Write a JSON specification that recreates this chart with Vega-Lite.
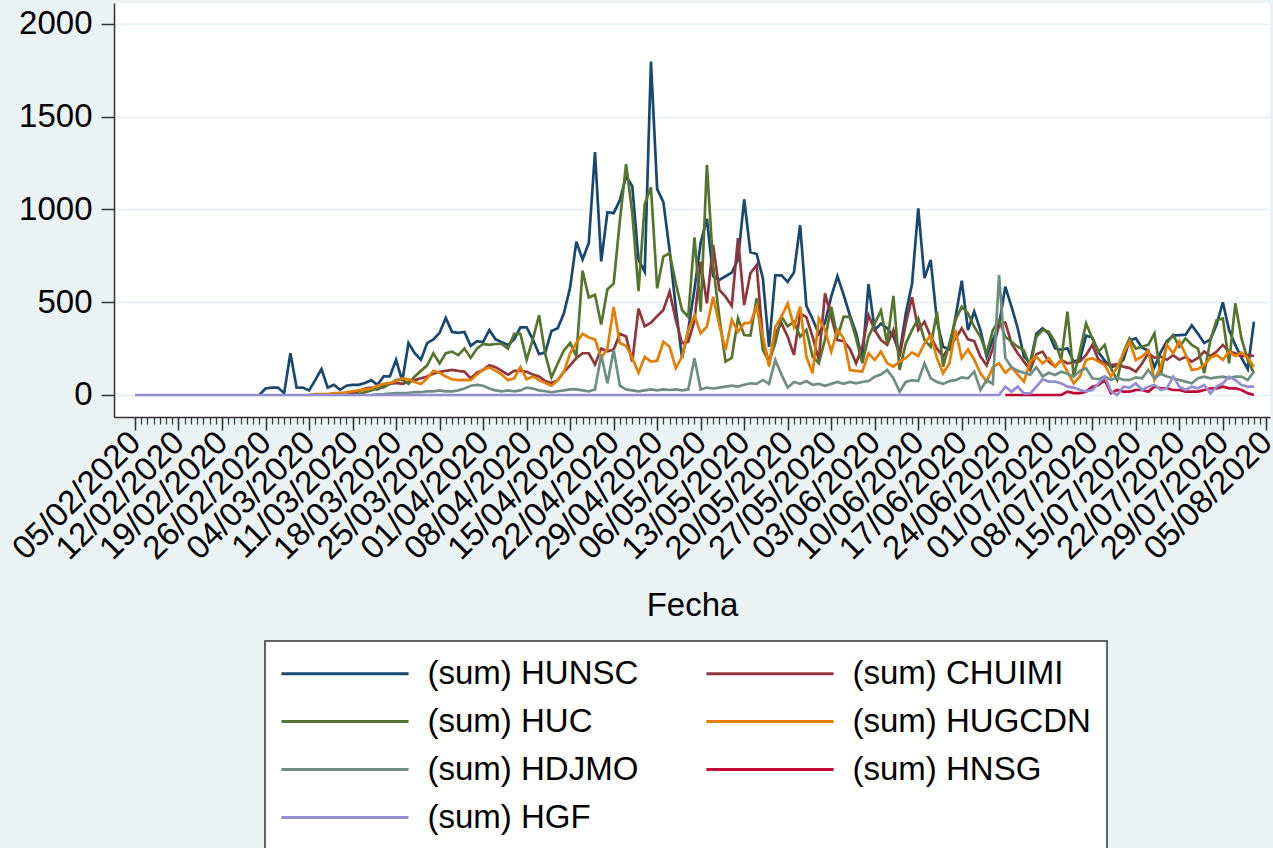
{
"$schema":"https://vega.github.io/schema/vega-lite/v6.json",
"width":1156,"height":414,
"autosize":{"type":"none"},
"padding":{"left":114,"top":3,"right":3,"bottom":431},
"background":"#EAF2F3",
"config":{"view":{"fill":"white","stroke":null},"font":"Liberation Sans",
"axis":{"labelFont":"Liberation Sans","titleFont":"Liberation Sans","labelColor":"#000","titleColor":"#000","domainColor":"#333","tickColor":"#333"}},
"data":{"values":[
{"d":"2020-02-25","s":"HUNSC","v":0},{"d":"2020-02-26","s":"HUNSC","v":35},{"d":"2020-02-27","s":"HUNSC","v":40},{"d":"2020-02-28","s":"HUNSC","v":40},{"d":"2020-02-29","s":"HUNSC","v":10},
{"d":"2020-03-01","s":"HUNSC","v":225},{"d":"2020-03-02","s":"HUNSC","v":40},{"d":"2020-03-03","s":"HUNSC","v":40},{"d":"2020-03-04","s":"HUNSC","v":25},{"d":"2020-03-05","s":"HUNSC","v":80},{"d":"2020-03-06","s":"HUNSC","v":140},{"d":"2020-03-07","s":"HUNSC","v":40},{"d":"2020-03-08","s":"HUNSC","v":55},{"d":"2020-03-09","s":"HUNSC","v":28},{"d":"2020-03-10","s":"HUNSC","v":50},
{"d":"2020-03-11","s":"HUNSC","v":55},{"d":"2020-03-12","s":"HUNSC","v":55},{"d":"2020-03-13","s":"HUNSC","v":65},{"d":"2020-03-14","s":"HUNSC","v":80},{"d":"2020-03-15","s":"HUNSC","v":55},{"d":"2020-03-16","s":"HUNSC","v":100},{"d":"2020-03-17","s":"HUNSC","v":100},{"d":"2020-03-18","s":"HUNSC","v":190},{"d":"2020-03-19","s":"HUNSC","v":75},{"d":"2020-03-20","s":"HUNSC","v":280},
{"d":"2020-03-21","s":"HUNSC","v":225},{"d":"2020-03-22","s":"HUNSC","v":190},{"d":"2020-03-23","s":"HUNSC","v":280},{"d":"2020-03-24","s":"HUNSC","v":300},{"d":"2020-03-25","s":"HUNSC","v":335},{"d":"2020-03-26","s":"HUNSC","v":415},{"d":"2020-03-27","s":"HUNSC","v":340},{"d":"2020-03-28","s":"HUNSC","v":335},{"d":"2020-03-29","s":"HUNSC","v":340},{"d":"2020-03-30","s":"HUNSC","v":265},{"d":"2020-03-31","s":"HUNSC","v":290},
{"d":"2020-04-01","s":"HUNSC","v":285},{"d":"2020-04-02","s":"HUNSC","v":350},{"d":"2020-04-03","s":"HUNSC","v":300},{"d":"2020-04-04","s":"HUNSC","v":285},{"d":"2020-04-05","s":"HUNSC","v":270},{"d":"2020-04-06","s":"HUNSC","v":300},{"d":"2020-04-07","s":"HUNSC","v":365},{"d":"2020-04-08","s":"HUNSC","v":365},{"d":"2020-04-09","s":"HUNSC","v":300},{"d":"2020-04-10","s":"HUNSC","v":220},
{"d":"2020-04-11","s":"HUNSC","v":230},{"d":"2020-04-12","s":"HUNSC","v":345},{"d":"2020-04-13","s":"HUNSC","v":360},{"d":"2020-04-14","s":"HUNSC","v":440},{"d":"2020-04-15","s":"HUNSC","v":580},{"d":"2020-04-16","s":"HUNSC","v":827},{"d":"2020-04-17","s":"HUNSC","v":730},{"d":"2020-04-18","s":"HUNSC","v":820},{"d":"2020-04-19","s":"HUNSC","v":1310},{"d":"2020-04-20","s":"HUNSC","v":720},
{"d":"2020-04-21","s":"HUNSC","v":985},{"d":"2020-04-22","s":"HUNSC","v":980},{"d":"2020-04-23","s":"HUNSC","v":1050},{"d":"2020-04-24","s":"HUNSC","v":1180},{"d":"2020-04-25","s":"HUNSC","v":1125},{"d":"2020-04-26","s":"HUNSC","v":730},{"d":"2020-04-27","s":"HUNSC","v":665},{"d":"2020-04-28","s":"HUNSC","v":1797},{"d":"2020-04-29","s":"HUNSC","v":1110},{"d":"2020-04-30","s":"HUNSC","v":1040},
{"d":"2020-05-01","s":"HUNSC","v":780},{"d":"2020-05-02","s":"HUNSC","v":470},{"d":"2020-05-03","s":"HUNSC","v":200},{"d":"2020-05-04","s":"HUNSC","v":350},{"d":"2020-05-05","s":"HUNSC","v":570},{"d":"2020-05-06","s":"HUNSC","v":820},{"d":"2020-05-07","s":"HUNSC","v":950},{"d":"2020-05-08","s":"HUNSC","v":640},{"d":"2020-05-09","s":"HUNSC","v":620},{"d":"2020-05-10","s":"HUNSC","v":640},
{"d":"2020-05-11","s":"HUNSC","v":660},{"d":"2020-05-12","s":"HUNSC","v":730},{"d":"2020-05-13","s":"HUNSC","v":1055},{"d":"2020-05-14","s":"HUNSC","v":770},{"d":"2020-05-15","s":"HUNSC","v":760},{"d":"2020-05-16","s":"HUNSC","v":630},{"d":"2020-05-17","s":"HUNSC","v":260},{"d":"2020-05-18","s":"HUNSC","v":645},{"d":"2020-05-19","s":"HUNSC","v":645},{"d":"2020-05-20","s":"HUNSC","v":610},
{"d":"2020-05-21","s":"HUNSC","v":660},{"d":"2020-05-22","s":"HUNSC","v":915},{"d":"2020-05-23","s":"HUNSC","v":480},{"d":"2020-05-24","s":"HUNSC","v":410},{"d":"2020-05-25","s":"HUNSC","v":330},{"d":"2020-05-26","s":"HUNSC","v":390},{"d":"2020-05-27","s":"HUNSC","v":530},{"d":"2020-05-28","s":"HUNSC","v":640},{"d":"2020-05-29","s":"HUNSC","v":540},{"d":"2020-05-30","s":"HUNSC","v":430},{"d":"2020-05-31","s":"HUNSC","v":335},
{"d":"2020-06-01","s":"HUNSC","v":190},{"d":"2020-06-02","s":"HUNSC","v":598},{"d":"2020-06-03","s":"HUNSC","v":350},{"d":"2020-06-04","s":"HUNSC","v":385},{"d":"2020-06-05","s":"HUNSC","v":360},{"d":"2020-06-06","s":"HUNSC","v":315},{"d":"2020-06-07","s":"HUNSC","v":225},{"d":"2020-06-08","s":"HUNSC","v":440},{"d":"2020-06-09","s":"HUNSC","v":600},{"d":"2020-06-10","s":"HUNSC","v":1006},
{"d":"2020-06-11","s":"HUNSC","v":630},{"d":"2020-06-12","s":"HUNSC","v":728},{"d":"2020-06-13","s":"HUNSC","v":400},{"d":"2020-06-14","s":"HUNSC","v":260},{"d":"2020-06-15","s":"HUNSC","v":245},{"d":"2020-06-16","s":"HUNSC","v":420},{"d":"2020-06-17","s":"HUNSC","v":616},{"d":"2020-06-18","s":"HUNSC","v":350},{"d":"2020-06-19","s":"HUNSC","v":450},{"d":"2020-06-20","s":"HUNSC","v":350},
{"d":"2020-06-21","s":"HUNSC","v":207},{"d":"2020-06-22","s":"HUNSC","v":296},{"d":"2020-06-23","s":"HUNSC","v":377},{"d":"2020-06-24","s":"HUNSC","v":584},{"d":"2020-06-25","s":"HUNSC","v":476},{"d":"2020-06-26","s":"HUNSC","v":360},{"d":"2020-06-27","s":"HUNSC","v":207},{"d":"2020-06-28","s":"HUNSC","v":171},{"d":"2020-06-29","s":"HUNSC","v":330},{"d":"2020-06-30","s":"HUNSC","v":360},
{"d":"2020-07-01","s":"HUNSC","v":330},{"d":"2020-07-02","s":"HUNSC","v":252},{"d":"2020-07-03","s":"HUNSC","v":243},{"d":"2020-07-04","s":"HUNSC","v":252},{"d":"2020-07-05","s":"HUNSC","v":180},{"d":"2020-07-06","s":"HUNSC","v":190},{"d":"2020-07-07","s":"HUNSC","v":320},{"d":"2020-07-08","s":"HUNSC","v":310},{"d":"2020-07-09","s":"HUNSC","v":230},{"d":"2020-07-10","s":"HUNSC","v":185},
{"d":"2020-07-11","s":"HUNSC","v":150},{"d":"2020-07-12","s":"HUNSC","v":160},{"d":"2020-07-13","s":"HUNSC","v":190},{"d":"2020-07-14","s":"HUNSC","v":296},{"d":"2020-07-15","s":"HUNSC","v":305},{"d":"2020-07-16","s":"HUNSC","v":255},{"d":"2020-07-17","s":"HUNSC","v":240},{"d":"2020-07-18","s":"HUNSC","v":150},{"d":"2020-07-19","s":"HUNSC","v":230},{"d":"2020-07-20","s":"HUNSC","v":290},
{"d":"2020-07-21","s":"HUNSC","v":320},{"d":"2020-07-22","s":"HUNSC","v":323},{"d":"2020-07-23","s":"HUNSC","v":325},{"d":"2020-07-24","s":"HUNSC","v":375},{"d":"2020-07-25","s":"HUNSC","v":330},{"d":"2020-07-26","s":"HUNSC","v":280},{"d":"2020-07-27","s":"HUNSC","v":300},{"d":"2020-07-28","s":"HUNSC","v":380},{"d":"2020-07-29","s":"HUNSC","v":500},{"d":"2020-07-30","s":"HUNSC","v":350},{"d":"2020-07-31","s":"HUNSC","v":270},
{"d":"2020-08-01","s":"HUNSC","v":200},{"d":"2020-08-02","s":"HUNSC","v":140},{"d":"2020-08-03","s":"HUNSC","v":395},

{"d":"2020-03-10","s":"CHUIMI","v":0},{"d":"2020-03-11","s":"CHUIMI","v":10},{"d":"2020-03-12","s":"CHUIMI","v":20},{"d":"2020-03-13","s":"CHUIMI","v":35},{"d":"2020-03-14","s":"CHUIMI","v":40},{"d":"2020-03-15","s":"CHUIMI","v":30},{"d":"2020-03-16","s":"CHUIMI","v":50},{"d":"2020-03-17","s":"CHUIMI","v":60},{"d":"2020-03-18","s":"CHUIMI","v":65},{"d":"2020-03-19","s":"CHUIMI","v":60},{"d":"2020-03-20","s":"CHUIMI","v":70},
{"d":"2020-03-21","s":"CHUIMI","v":80},{"d":"2020-03-22","s":"CHUIMI","v":90},{"d":"2020-03-23","s":"CHUIMI","v":100},{"d":"2020-03-24","s":"CHUIMI","v":115},{"d":"2020-03-25","s":"CHUIMI","v":125},{"d":"2020-03-26","s":"CHUIMI","v":130},{"d":"2020-03-27","s":"CHUIMI","v":135},{"d":"2020-03-28","s":"CHUIMI","v":130},{"d":"2020-03-29","s":"CHUIMI","v":126},{"d":"2020-03-30","s":"CHUIMI","v":90},{"d":"2020-03-31","s":"CHUIMI","v":120},
{"d":"2020-04-01","s":"CHUIMI","v":135},{"d":"2020-04-02","s":"CHUIMI","v":160},{"d":"2020-04-03","s":"CHUIMI","v":150},{"d":"2020-04-04","s":"CHUIMI","v":130},{"d":"2020-04-05","s":"CHUIMI","v":110},{"d":"2020-04-06","s":"CHUIMI","v":130},{"d":"2020-04-07","s":"CHUIMI","v":130},{"d":"2020-04-08","s":"CHUIMI","v":125},{"d":"2020-04-09","s":"CHUIMI","v":110},{"d":"2020-04-10","s":"CHUIMI","v":100},
{"d":"2020-04-11","s":"CHUIMI","v":75},{"d":"2020-04-12","s":"CHUIMI","v":65},{"d":"2020-04-13","s":"CHUIMI","v":80},{"d":"2020-04-14","s":"CHUIMI","v":125},{"d":"2020-04-15","s":"CHUIMI","v":160},{"d":"2020-04-16","s":"CHUIMI","v":200},{"d":"2020-04-17","s":"CHUIMI","v":225},{"d":"2020-04-18","s":"CHUIMI","v":225},{"d":"2020-04-19","s":"CHUIMI","v":165},{"d":"2020-04-20","s":"CHUIMI","v":250},
{"d":"2020-04-21","s":"CHUIMI","v":235},{"d":"2020-04-22","s":"CHUIMI","v":245},{"d":"2020-04-23","s":"CHUIMI","v":330},{"d":"2020-04-24","s":"CHUIMI","v":315},{"d":"2020-04-25","s":"CHUIMI","v":180},{"d":"2020-04-26","s":"CHUIMI","v":465},{"d":"2020-04-27","s":"CHUIMI","v":370},{"d":"2020-04-28","s":"CHUIMI","v":390},{"d":"2020-04-29","s":"CHUIMI","v":425},{"d":"2020-04-30","s":"CHUIMI","v":458},
{"d":"2020-05-01","s":"CHUIMI","v":557},{"d":"2020-05-02","s":"CHUIMI","v":404},{"d":"2020-05-03","s":"CHUIMI","v":279},{"d":"2020-05-04","s":"CHUIMI","v":287},{"d":"2020-05-05","s":"CHUIMI","v":400},{"d":"2020-05-06","s":"CHUIMI","v":719},{"d":"2020-05-07","s":"CHUIMI","v":494},{"d":"2020-05-08","s":"CHUIMI","v":809},{"d":"2020-05-09","s":"CHUIMI","v":566},{"d":"2020-05-10","s":"CHUIMI","v":530},
{"d":"2020-05-11","s":"CHUIMI","v":480},{"d":"2020-05-12","s":"CHUIMI","v":845},{"d":"2020-05-13","s":"CHUIMI","v":485},{"d":"2020-05-14","s":"CHUIMI","v":656},{"d":"2020-05-15","s":"CHUIMI","v":701},{"d":"2020-05-16","s":"CHUIMI","v":300},{"d":"2020-05-17","s":"CHUIMI","v":171},{"d":"2020-05-18","s":"CHUIMI","v":332},{"d":"2020-05-19","s":"CHUIMI","v":386},{"d":"2020-05-20","s":"CHUIMI","v":314},
{"d":"2020-05-21","s":"CHUIMI","v":216},{"d":"2020-05-22","s":"CHUIMI","v":440},{"d":"2020-05-23","s":"CHUIMI","v":420},{"d":"2020-05-24","s":"CHUIMI","v":314},{"d":"2020-05-25","s":"CHUIMI","v":189},{"d":"2020-05-26","s":"CHUIMI","v":548},{"d":"2020-05-27","s":"CHUIMI","v":422},{"d":"2020-05-28","s":"CHUIMI","v":296},{"d":"2020-05-29","s":"CHUIMI","v":290},{"d":"2020-05-30","s":"CHUIMI","v":250},{"d":"2020-05-31","s":"CHUIMI","v":171},
{"d":"2020-06-01","s":"CHUIMI","v":260},{"d":"2020-06-02","s":"CHUIMI","v":431},{"d":"2020-06-03","s":"CHUIMI","v":350},{"d":"2020-06-04","s":"CHUIMI","v":296},{"d":"2020-06-05","s":"CHUIMI","v":270},{"d":"2020-06-06","s":"CHUIMI","v":350},{"d":"2020-06-07","s":"CHUIMI","v":207},{"d":"2020-06-08","s":"CHUIMI","v":386},{"d":"2020-06-09","s":"CHUIMI","v":527},{"d":"2020-06-10","s":"CHUIMI","v":350},
{"d":"2020-06-11","s":"CHUIMI","v":395},{"d":"2020-06-12","s":"CHUIMI","v":314},{"d":"2020-06-13","s":"CHUIMI","v":250},{"d":"2020-06-14","s":"CHUIMI","v":207},{"d":"2020-06-15","s":"CHUIMI","v":260},{"d":"2020-06-16","s":"CHUIMI","v":305},{"d":"2020-06-17","s":"CHUIMI","v":359},{"d":"2020-06-18","s":"CHUIMI","v":300},{"d":"2020-06-19","s":"CHUIMI","v":290},{"d":"2020-06-20","s":"CHUIMI","v":207},
{"d":"2020-06-21","s":"CHUIMI","v":160},{"d":"2020-06-22","s":"CHUIMI","v":250},{"d":"2020-06-23","s":"CHUIMI","v":377},{"d":"2020-06-24","s":"CHUIMI","v":390},{"d":"2020-06-25","s":"CHUIMI","v":278},{"d":"2020-06-26","s":"CHUIMI","v":225},{"d":"2020-06-27","s":"CHUIMI","v":180},{"d":"2020-06-28","s":"CHUIMI","v":135},{"d":"2020-06-29","s":"CHUIMI","v":220},{"d":"2020-06-30","s":"CHUIMI","v":234},
{"d":"2020-07-01","s":"CHUIMI","v":180},{"d":"2020-07-02","s":"CHUIMI","v":153},{"d":"2020-07-03","s":"CHUIMI","v":189},{"d":"2020-07-04","s":"CHUIMI","v":170},{"d":"2020-07-05","s":"CHUIMI","v":175},{"d":"2020-07-06","s":"CHUIMI","v":180},{"d":"2020-07-07","s":"CHUIMI","v":216},{"d":"2020-07-08","s":"CHUIMI","v":270},{"d":"2020-07-09","s":"CHUIMI","v":190},{"d":"2020-07-10","s":"CHUIMI","v":170},
{"d":"2020-07-11","s":"CHUIMI","v":162},{"d":"2020-07-12","s":"CHUIMI","v":165},{"d":"2020-07-13","s":"CHUIMI","v":153},{"d":"2020-07-14","s":"CHUIMI","v":145},{"d":"2020-07-15","s":"CHUIMI","v":126},{"d":"2020-07-16","s":"CHUIMI","v":170},{"d":"2020-07-17","s":"CHUIMI","v":225},{"d":"2020-07-18","s":"CHUIMI","v":200},{"d":"2020-07-19","s":"CHUIMI","v":207},{"d":"2020-07-20","s":"CHUIMI","v":190},
{"d":"2020-07-21","s":"CHUIMI","v":215},{"d":"2020-07-22","s":"CHUIMI","v":190},{"d":"2020-07-23","s":"CHUIMI","v":205},{"d":"2020-07-24","s":"CHUIMI","v":180},{"d":"2020-07-25","s":"CHUIMI","v":200},{"d":"2020-07-26","s":"CHUIMI","v":234},{"d":"2020-07-27","s":"CHUIMI","v":210},{"d":"2020-07-28","s":"CHUIMI","v":234},{"d":"2020-07-29","s":"CHUIMI","v":270},{"d":"2020-07-30","s":"CHUIMI","v":234},{"d":"2020-07-31","s":"CHUIMI","v":225},
{"d":"2020-08-01","s":"CHUIMI","v":207},{"d":"2020-08-02","s":"CHUIMI","v":216},{"d":"2020-08-03","s":"CHUIMI","v":210},

{"d":"2020-03-11","s":"HUC","v":0},{"d":"2020-03-12","s":"HUC","v":5},{"d":"2020-03-13","s":"HUC","v":15},{"d":"2020-03-14","s":"HUC","v":25},{"d":"2020-03-15","s":"HUC","v":35},{"d":"2020-03-16","s":"HUC","v":40},{"d":"2020-03-17","s":"HUC","v":60},{"d":"2020-03-18","s":"HUC","v":80},{"d":"2020-03-19","s":"HUC","v":85},{"d":"2020-03-20","s":"HUC","v":60},
{"d":"2020-03-21","s":"HUC","v":100},{"d":"2020-03-22","s":"HUC","v":130},{"d":"2020-03-23","s":"HUC","v":160},{"d":"2020-03-24","s":"HUC","v":225},{"d":"2020-03-25","s":"HUC","v":170},{"d":"2020-03-26","s":"HUC","v":225},{"d":"2020-03-27","s":"HUC","v":234},{"d":"2020-03-28","s":"HUC","v":215},{"d":"2020-03-29","s":"HUC","v":250},{"d":"2020-03-30","s":"HUC","v":200},{"d":"2020-03-31","s":"HUC","v":250},
{"d":"2020-04-01","s":"HUC","v":275},{"d":"2020-04-02","s":"HUC","v":270},{"d":"2020-04-03","s":"HUC","v":275},{"d":"2020-04-04","s":"HUC","v":275},{"d":"2020-04-05","s":"HUC","v":250},{"d":"2020-04-06","s":"HUC","v":330},{"d":"2020-04-07","s":"HUC","v":330},{"d":"2020-04-08","s":"HUC","v":190},{"d":"2020-04-09","s":"HUC","v":300},{"d":"2020-04-10","s":"HUC","v":430},
{"d":"2020-04-11","s":"HUC","v":220},{"d":"2020-04-12","s":"HUC","v":95},{"d":"2020-04-13","s":"HUC","v":170},{"d":"2020-04-14","s":"HUC","v":240},{"d":"2020-04-15","s":"HUC","v":280},{"d":"2020-04-16","s":"HUC","v":210},{"d":"2020-04-17","s":"HUC","v":670},{"d":"2020-04-18","s":"HUC","v":525},{"d":"2020-04-19","s":"HUC","v":540},{"d":"2020-04-20","s":"HUC","v":380},
{"d":"2020-04-21","s":"HUC","v":570},{"d":"2020-04-22","s":"HUC","v":600},{"d":"2020-04-23","s":"HUC","v":940},{"d":"2020-04-24","s":"HUC","v":1245},{"d":"2020-04-25","s":"HUC","v":980},{"d":"2020-04-26","s":"HUC","v":560},{"d":"2020-04-27","s":"HUC","v":1030},{"d":"2020-04-28","s":"HUC","v":1120},{"d":"2020-04-29","s":"HUC","v":575},{"d":"2020-04-30","s":"HUC","v":746},
{"d":"2020-05-01","s":"HUC","v":764},{"d":"2020-05-02","s":"HUC","v":602},{"d":"2020-05-03","s":"HUC","v":458},{"d":"2020-05-04","s":"HUC","v":422},{"d":"2020-05-05","s":"HUC","v":850},{"d":"2020-05-06","s":"HUC","v":449},{"d":"2020-05-07","s":"HUC","v":1240},{"d":"2020-05-08","s":"HUC","v":700},{"d":"2020-05-09","s":"HUC","v":420},{"d":"2020-05-10","s":"HUC","v":180},
{"d":"2020-05-11","s":"HUC","v":200},{"d":"2020-05-12","s":"HUC","v":413},{"d":"2020-05-13","s":"HUC","v":323},{"d":"2020-05-14","s":"HUC","v":320},{"d":"2020-05-15","s":"HUC","v":521},{"d":"2020-05-16","s":"HUC","v":243},{"d":"2020-05-17","s":"HUC","v":180},{"d":"2020-05-18","s":"HUC","v":279},{"d":"2020-05-19","s":"HUC","v":422},{"d":"2020-05-20","s":"HUC","v":370},
{"d":"2020-05-21","s":"HUC","v":395},{"d":"2020-05-22","s":"HUC","v":315},{"d":"2020-05-23","s":"HUC","v":350},{"d":"2020-05-24","s":"HUC","v":207},{"d":"2020-05-25","s":"HUC","v":171},{"d":"2020-05-26","s":"HUC","v":300},{"d":"2020-05-27","s":"HUC","v":476},{"d":"2020-05-28","s":"HUC","v":314},{"d":"2020-05-29","s":"HUC","v":422},{"d":"2020-05-30","s":"HUC","v":420},{"d":"2020-05-31","s":"HUC","v":305},
{"d":"2020-06-01","s":"HUC","v":171},{"d":"2020-06-02","s":"HUC","v":314},{"d":"2020-06-03","s":"HUC","v":386},{"d":"2020-06-04","s":"HUC","v":455},{"d":"2020-06-05","s":"HUC","v":278},{"d":"2020-06-06","s":"HUC","v":534},{"d":"2020-06-07","s":"HUC","v":135},{"d":"2020-06-08","s":"HUC","v":278},{"d":"2020-06-09","s":"HUC","v":350},{"d":"2020-06-10","s":"HUC","v":413},
{"d":"2020-06-11","s":"HUC","v":296},{"d":"2020-06-12","s":"HUC","v":260},{"d":"2020-06-13","s":"HUC","v":449},{"d":"2020-06-14","s":"HUC","v":153},{"d":"2020-06-15","s":"HUC","v":278},{"d":"2020-06-16","s":"HUC","v":404},{"d":"2020-06-17","s":"HUC","v":476},{"d":"2020-06-18","s":"HUC","v":440},{"d":"2020-06-19","s":"HUC","v":368},{"d":"2020-06-20","s":"HUC","v":314},
{"d":"2020-06-21","s":"HUC","v":225},{"d":"2020-06-22","s":"HUC","v":350},{"d":"2020-06-23","s":"HUC","v":404},{"d":"2020-06-24","s":"HUC","v":314},{"d":"2020-06-25","s":"HUC","v":287},{"d":"2020-06-26","s":"HUC","v":260},{"d":"2020-06-27","s":"HUC","v":240},{"d":"2020-06-28","s":"HUC","v":153},{"d":"2020-06-29","s":"HUC","v":314},{"d":"2020-06-30","s":"HUC","v":350},
{"d":"2020-07-01","s":"HUC","v":341},{"d":"2020-07-02","s":"HUC","v":287},{"d":"2020-07-03","s":"HUC","v":189},{"d":"2020-07-04","s":"HUC","v":449},{"d":"2020-07-05","s":"HUC","v":99},{"d":"2020-07-06","s":"HUC","v":234},{"d":"2020-07-07","s":"HUC","v":386},{"d":"2020-07-08","s":"HUC","v":305},{"d":"2020-07-09","s":"HUC","v":234},{"d":"2020-07-10","s":"HUC","v":270},
{"d":"2020-07-11","s":"HUC","v":144},{"d":"2020-07-12","s":"HUC","v":81},{"d":"2020-07-13","s":"HUC","v":230},{"d":"2020-07-14","s":"HUC","v":305},{"d":"2020-07-15","s":"HUC","v":250},{"d":"2020-07-16","s":"HUC","v":260},{"d":"2020-07-17","s":"HUC","v":270},{"d":"2020-07-18","s":"HUC","v":332},{"d":"2020-07-19","s":"HUC","v":108},{"d":"2020-07-20","s":"HUC","v":279},
{"d":"2020-07-21","s":"HUC","v":323},{"d":"2020-07-22","s":"HUC","v":260},{"d":"2020-07-23","s":"HUC","v":305},{"d":"2020-07-24","s":"HUC","v":270},{"d":"2020-07-25","s":"HUC","v":250},{"d":"2020-07-26","s":"HUC","v":117},{"d":"2020-07-27","s":"HUC","v":296},{"d":"2020-07-28","s":"HUC","v":404},{"d":"2020-07-29","s":"HUC","v":413},{"d":"2020-07-30","s":"HUC","v":171},{"d":"2020-07-31","s":"HUC","v":494},
{"d":"2020-08-01","s":"HUC","v":305},{"d":"2020-08-02","s":"HUC","v":189},{"d":"2020-08-03","s":"HUC","v":117},

{"d":"2020-03-04","s":"HUGCDN","v":0},{"d":"2020-03-05","s":"HUGCDN","v":5},{"d":"2020-03-06","s":"HUGCDN","v":5},{"d":"2020-03-07","s":"HUGCDN","v":5},{"d":"2020-03-08","s":"HUGCDN","v":10},{"d":"2020-03-09","s":"HUGCDN","v":10},{"d":"2020-03-10","s":"HUGCDN","v":15},
{"d":"2020-03-11","s":"HUGCDN","v":20},{"d":"2020-03-12","s":"HUGCDN","v":25},{"d":"2020-03-13","s":"HUGCDN","v":30},{"d":"2020-03-14","s":"HUGCDN","v":35},{"d":"2020-03-15","s":"HUGCDN","v":50},{"d":"2020-03-16","s":"HUGCDN","v":60},{"d":"2020-03-17","s":"HUGCDN","v":65},{"d":"2020-03-18","s":"HUGCDN","v":75},{"d":"2020-03-19","s":"HUGCDN","v":90},{"d":"2020-03-20","s":"HUGCDN","v":85},
{"d":"2020-03-21","s":"HUGCDN","v":70},{"d":"2020-03-22","s":"HUGCDN","v":60},{"d":"2020-03-23","s":"HUGCDN","v":90},{"d":"2020-03-24","s":"HUGCDN","v":130},{"d":"2020-03-25","s":"HUGCDN","v":120},{"d":"2020-03-26","s":"HUGCDN","v":100},{"d":"2020-03-27","s":"HUGCDN","v":85},{"d":"2020-03-28","s":"HUGCDN","v":80},{"d":"2020-03-29","s":"HUGCDN","v":82},{"d":"2020-03-30","s":"HUGCDN","v":80},{"d":"2020-03-31","s":"HUGCDN","v":110},
{"d":"2020-04-01","s":"HUGCDN","v":135},{"d":"2020-04-02","s":"HUGCDN","v":150},{"d":"2020-04-03","s":"HUGCDN","v":130},{"d":"2020-04-04","s":"HUGCDN","v":110},{"d":"2020-04-05","s":"HUGCDN","v":80},{"d":"2020-04-06","s":"HUGCDN","v":90},{"d":"2020-04-07","s":"HUGCDN","v":150},{"d":"2020-04-08","s":"HUGCDN","v":85},{"d":"2020-04-09","s":"HUGCDN","v":100},{"d":"2020-04-10","s":"HUGCDN","v":80},
{"d":"2020-04-11","s":"HUGCDN","v":65},{"d":"2020-04-12","s":"HUGCDN","v":50},{"d":"2020-04-13","s":"HUGCDN","v":80},{"d":"2020-04-14","s":"HUGCDN","v":125},{"d":"2020-04-15","s":"HUGCDN","v":225},{"d":"2020-04-16","s":"HUGCDN","v":280},{"d":"2020-04-17","s":"HUGCDN","v":330},{"d":"2020-04-18","s":"HUGCDN","v":310},{"d":"2020-04-19","s":"HUGCDN","v":300},{"d":"2020-04-20","s":"HUGCDN","v":200},
{"d":"2020-04-21","s":"HUGCDN","v":250},{"d":"2020-04-22","s":"HUGCDN","v":475},{"d":"2020-04-23","s":"HUGCDN","v":280},{"d":"2020-04-24","s":"HUGCDN","v":265},{"d":"2020-04-25","s":"HUGCDN","v":200},{"d":"2020-04-26","s":"HUGCDN","v":120},{"d":"2020-04-27","s":"HUGCDN","v":205},{"d":"2020-04-28","s":"HUGCDN","v":180},{"d":"2020-04-29","s":"HUGCDN","v":185},{"d":"2020-04-30","s":"HUGCDN","v":287},
{"d":"2020-05-01","s":"HUGCDN","v":260},{"d":"2020-05-02","s":"HUGCDN","v":144},{"d":"2020-05-03","s":"HUGCDN","v":207},{"d":"2020-05-04","s":"HUGCDN","v":350},{"d":"2020-05-05","s":"HUGCDN","v":431},{"d":"2020-05-06","s":"HUGCDN","v":332},{"d":"2020-05-07","s":"HUGCDN","v":368},{"d":"2020-05-08","s":"HUGCDN","v":530},{"d":"2020-05-09","s":"HUGCDN","v":377},{"d":"2020-05-10","s":"HUGCDN","v":243},
{"d":"2020-05-11","s":"HUGCDN","v":404},{"d":"2020-05-12","s":"HUGCDN","v":341},{"d":"2020-05-13","s":"HUGCDN","v":386},{"d":"2020-05-14","s":"HUGCDN","v":390},{"d":"2020-05-15","s":"HUGCDN","v":476},{"d":"2020-05-16","s":"HUGCDN","v":314},{"d":"2020-05-17","s":"HUGCDN","v":153},{"d":"2020-05-18","s":"HUGCDN","v":368},{"d":"2020-05-19","s":"HUGCDN","v":422},{"d":"2020-05-20","s":"HUGCDN","v":494},
{"d":"2020-05-21","s":"HUGCDN","v":368},{"d":"2020-05-22","s":"HUGCDN","v":476},{"d":"2020-05-23","s":"HUGCDN","v":207},{"d":"2020-05-24","s":"HUGCDN","v":117},{"d":"2020-05-25","s":"HUGCDN","v":413},{"d":"2020-05-26","s":"HUGCDN","v":350},{"d":"2020-05-27","s":"HUGCDN","v":234},{"d":"2020-05-28","s":"HUGCDN","v":350},{"d":"2020-05-29","s":"HUGCDN","v":305},{"d":"2020-05-30","s":"HUGCDN","v":135},{"d":"2020-05-31","s":"HUGCDN","v":130},
{"d":"2020-06-01","s":"HUGCDN","v":126},{"d":"2020-06-02","s":"HUGCDN","v":225},{"d":"2020-06-03","s":"HUGCDN","v":189},{"d":"2020-06-04","s":"HUGCDN","v":234},{"d":"2020-06-05","s":"HUGCDN","v":171},{"d":"2020-06-06","s":"HUGCDN","v":153},{"d":"2020-06-07","s":"HUGCDN","v":180},{"d":"2020-06-08","s":"HUGCDN","v":200},{"d":"2020-06-09","s":"HUGCDN","v":230},{"d":"2020-06-10","s":"HUGCDN","v":210},
{"d":"2020-06-11","s":"HUGCDN","v":278},{"d":"2020-06-12","s":"HUGCDN","v":323},{"d":"2020-06-13","s":"HUGCDN","v":200},{"d":"2020-06-14","s":"HUGCDN","v":117},{"d":"2020-06-15","s":"HUGCDN","v":170},{"d":"2020-06-16","s":"HUGCDN","v":350},{"d":"2020-06-17","s":"HUGCDN","v":198},{"d":"2020-06-18","s":"HUGCDN","v":245},{"d":"2020-06-19","s":"HUGCDN","v":190},{"d":"2020-06-20","s":"HUGCDN","v":117},
{"d":"2020-06-21","s":"HUGCDN","v":72},{"d":"2020-06-22","s":"HUGCDN","v":150},{"d":"2020-06-23","s":"HUGCDN","v":171},{"d":"2020-06-24","s":"HUGCDN","v":120},{"d":"2020-06-25","s":"HUGCDN","v":150},{"d":"2020-06-26","s":"HUGCDN","v":110},{"d":"2020-06-27","s":"HUGCDN","v":72},{"d":"2020-06-28","s":"HUGCDN","v":180},{"d":"2020-06-29","s":"HUGCDN","v":207},{"d":"2020-06-30","s":"HUGCDN","v":170},
{"d":"2020-07-01","s":"HUGCDN","v":198},{"d":"2020-07-02","s":"HUGCDN","v":153},{"d":"2020-07-03","s":"HUGCDN","v":189},{"d":"2020-07-04","s":"HUGCDN","v":126},{"d":"2020-07-05","s":"HUGCDN","v":63},{"d":"2020-07-06","s":"HUGCDN","v":100},{"d":"2020-07-07","s":"HUGCDN","v":189},{"d":"2020-07-08","s":"HUGCDN","v":198},{"d":"2020-07-09","s":"HUGCDN","v":180},{"d":"2020-07-10","s":"HUGCDN","v":162},
{"d":"2020-07-11","s":"HUGCDN","v":99},{"d":"2020-07-12","s":"HUGCDN","v":150},{"d":"2020-07-13","s":"HUGCDN","v":225},{"d":"2020-07-14","s":"HUGCDN","v":288},{"d":"2020-07-15","s":"HUGCDN","v":189},{"d":"2020-07-16","s":"HUGCDN","v":207},{"d":"2020-07-17","s":"HUGCDN","v":240},{"d":"2020-07-18","s":"HUGCDN","v":81},{"d":"2020-07-19","s":"HUGCDN","v":150},{"d":"2020-07-20","s":"HUGCDN","v":270},
{"d":"2020-07-21","s":"HUGCDN","v":225},{"d":"2020-07-22","s":"HUGCDN","v":288},{"d":"2020-07-23","s":"HUGCDN","v":220},{"d":"2020-07-24","s":"HUGCDN","v":135},{"d":"2020-07-25","s":"HUGCDN","v":140},{"d":"2020-07-26","s":"HUGCDN","v":162},{"d":"2020-07-27","s":"HUGCDN","v":200},{"d":"2020-07-28","s":"HUGCDN","v":216},{"d":"2020-07-29","s":"HUGCDN","v":190},{"d":"2020-07-30","s":"HUGCDN","v":234},{"d":"2020-07-31","s":"HUGCDN","v":210},
{"d":"2020-08-01","s":"HUGCDN","v":230},{"d":"2020-08-02","s":"HUGCDN","v":200},{"d":"2020-08-03","s":"HUGCDN","v":153},

{"d":"2020-03-14","s":"HDJMO","v":0},{"d":"2020-03-15","s":"HDJMO","v":3},{"d":"2020-03-16","s":"HDJMO","v":5},{"d":"2020-03-17","s":"HDJMO","v":8},{"d":"2020-03-18","s":"HDJMO","v":10},{"d":"2020-03-19","s":"HDJMO","v":10},{"d":"2020-03-20","s":"HDJMO","v":12},
{"d":"2020-03-21","s":"HDJMO","v":15},{"d":"2020-03-22","s":"HDJMO","v":15},{"d":"2020-03-23","s":"HDJMO","v":20},{"d":"2020-03-24","s":"HDJMO","v":20},{"d":"2020-03-25","s":"HDJMO","v":25},{"d":"2020-03-26","s":"HDJMO","v":20},{"d":"2020-03-27","s":"HDJMO","v":20},{"d":"2020-03-28","s":"HDJMO","v":25},{"d":"2020-03-29","s":"HDJMO","v":35},{"d":"2020-03-30","s":"HDJMO","v":50},{"d":"2020-03-31","s":"HDJMO","v":55},
{"d":"2020-04-01","s":"HDJMO","v":50},{"d":"2020-04-02","s":"HDJMO","v":35},{"d":"2020-04-03","s":"HDJMO","v":25},{"d":"2020-04-04","s":"HDJMO","v":20},{"d":"2020-04-05","s":"HDJMO","v":25},{"d":"2020-04-06","s":"HDJMO","v":20},{"d":"2020-04-07","s":"HDJMO","v":25},{"d":"2020-04-08","s":"HDJMO","v":40},{"d":"2020-04-09","s":"HDJMO","v":35},{"d":"2020-04-10","s":"HDJMO","v":25},
{"d":"2020-04-11","s":"HDJMO","v":20},{"d":"2020-04-12","s":"HDJMO","v":15},{"d":"2020-04-13","s":"HDJMO","v":20},{"d":"2020-04-14","s":"HDJMO","v":25},{"d":"2020-04-15","s":"HDJMO","v":30},{"d":"2020-04-16","s":"HDJMO","v":30},{"d":"2020-04-17","s":"HDJMO","v":25},{"d":"2020-04-18","s":"HDJMO","v":20},{"d":"2020-04-19","s":"HDJMO","v":30},{"d":"2020-04-20","s":"HDJMO","v":216},
{"d":"2020-04-21","s":"HDJMO","v":63},{"d":"2020-04-22","s":"HDJMO","v":243},{"d":"2020-04-23","s":"HDJMO","v":50},{"d":"2020-04-24","s":"HDJMO","v":30},{"d":"2020-04-25","s":"HDJMO","v":25},{"d":"2020-04-26","s":"HDJMO","v":20},{"d":"2020-04-27","s":"HDJMO","v":25},{"d":"2020-04-28","s":"HDJMO","v":30},{"d":"2020-04-29","s":"HDJMO","v":25},{"d":"2020-04-30","s":"HDJMO","v":30},
{"d":"2020-05-01","s":"HDJMO","v":27},{"d":"2020-05-02","s":"HDJMO","v":30},{"d":"2020-05-03","s":"HDJMO","v":25},{"d":"2020-05-04","s":"HDJMO","v":30},{"d":"2020-05-05","s":"HDJMO","v":198},{"d":"2020-05-06","s":"HDJMO","v":30},{"d":"2020-05-07","s":"HDJMO","v":40},{"d":"2020-05-08","s":"HDJMO","v":35},{"d":"2020-05-09","s":"HDJMO","v":40},{"d":"2020-05-10","s":"HDJMO","v":45},
{"d":"2020-05-11","s":"HDJMO","v":50},{"d":"2020-05-12","s":"HDJMO","v":45},{"d":"2020-05-13","s":"HDJMO","v":55},{"d":"2020-05-14","s":"HDJMO","v":63},{"d":"2020-05-15","s":"HDJMO","v":60},{"d":"2020-05-16","s":"HDJMO","v":81},{"d":"2020-05-17","s":"HDJMO","v":60},{"d":"2020-05-18","s":"HDJMO","v":189},{"d":"2020-05-19","s":"HDJMO","v":110},{"d":"2020-05-20","s":"HDJMO","v":40},
{"d":"2020-05-21","s":"HDJMO","v":70},{"d":"2020-05-22","s":"HDJMO","v":60},{"d":"2020-05-23","s":"HDJMO","v":75},{"d":"2020-05-24","s":"HDJMO","v":55},{"d":"2020-05-25","s":"HDJMO","v":60},{"d":"2020-05-26","s":"HDJMO","v":50},{"d":"2020-05-27","s":"HDJMO","v":60},{"d":"2020-05-28","s":"HDJMO","v":70},{"d":"2020-05-29","s":"HDJMO","v":60},{"d":"2020-05-30","s":"HDJMO","v":70},{"d":"2020-05-31","s":"HDJMO","v":63},
{"d":"2020-06-01","s":"HDJMO","v":70},{"d":"2020-06-02","s":"HDJMO","v":75},{"d":"2020-06-03","s":"HDJMO","v":99},{"d":"2020-06-04","s":"HDJMO","v":110},{"d":"2020-06-05","s":"HDJMO","v":135},{"d":"2020-06-06","s":"HDJMO","v":90},{"d":"2020-06-07","s":"HDJMO","v":18},{"d":"2020-06-08","s":"HDJMO","v":70},{"d":"2020-06-09","s":"HDJMO","v":80},{"d":"2020-06-10","s":"HDJMO","v":75},
{"d":"2020-06-11","s":"HDJMO","v":171},{"d":"2020-06-12","s":"HDJMO","v":90},{"d":"2020-06-13","s":"HDJMO","v":70},{"d":"2020-06-14","s":"HDJMO","v":60},{"d":"2020-06-15","s":"HDJMO","v":75},{"d":"2020-06-16","s":"HDJMO","v":80},{"d":"2020-06-17","s":"HDJMO","v":95},{"d":"2020-06-18","s":"HDJMO","v":90},{"d":"2020-06-19","s":"HDJMO","v":126},{"d":"2020-06-20","s":"HDJMO","v":27},
{"d":"2020-06-21","s":"HDJMO","v":80},{"d":"2020-06-22","s":"HDJMO","v":60},{"d":"2020-06-23","s":"HDJMO","v":647},{"d":"2020-06-24","s":"HDJMO","v":200},{"d":"2020-06-25","s":"HDJMO","v":150},{"d":"2020-06-26","s":"HDJMO","v":130},{"d":"2020-06-27","s":"HDJMO","v":120},{"d":"2020-06-28","s":"HDJMO","v":110},{"d":"2020-06-29","s":"HDJMO","v":150},{"d":"2020-06-30","s":"HDJMO","v":100},
{"d":"2020-07-01","s":"HDJMO","v":120},{"d":"2020-07-02","s":"HDJMO","v":108},{"d":"2020-07-03","s":"HDJMO","v":125},{"d":"2020-07-04","s":"HDJMO","v":115},{"d":"2020-07-05","s":"HDJMO","v":99},{"d":"2020-07-06","s":"HDJMO","v":130},{"d":"2020-07-07","s":"HDJMO","v":144},{"d":"2020-07-08","s":"HDJMO","v":90},{"d":"2020-07-09","s":"HDJMO","v":85},{"d":"2020-07-10","s":"HDJMO","v":100},
{"d":"2020-07-11","s":"HDJMO","v":81},{"d":"2020-07-12","s":"HDJMO","v":95},{"d":"2020-07-13","s":"HDJMO","v":81},{"d":"2020-07-14","s":"HDJMO","v":81},{"d":"2020-07-15","s":"HDJMO","v":95},{"d":"2020-07-16","s":"HDJMO","v":90},{"d":"2020-07-17","s":"HDJMO","v":135},{"d":"2020-07-18","s":"HDJMO","v":90},{"d":"2020-07-19","s":"HDJMO","v":115},{"d":"2020-07-20","s":"HDJMO","v":100},
{"d":"2020-07-21","s":"HDJMO","v":90},{"d":"2020-07-22","s":"HDJMO","v":81},{"d":"2020-07-23","s":"HDJMO","v":72},{"d":"2020-07-24","s":"HDJMO","v":63},{"d":"2020-07-25","s":"HDJMO","v":90},{"d":"2020-07-26","s":"HDJMO","v":99},{"d":"2020-07-27","s":"HDJMO","v":90},{"d":"2020-07-28","s":"HDJMO","v":95},{"d":"2020-07-29","s":"HDJMO","v":99},{"d":"2020-07-30","s":"HDJMO","v":90},{"d":"2020-07-31","s":"HDJMO","v":99},
{"d":"2020-08-01","s":"HDJMO","v":99},{"d":"2020-08-02","s":"HDJMO","v":81},{"d":"2020-08-03","s":"HDJMO","v":126},

{"d":"2020-06-24","s":"HNSG","v":0},{"d":"2020-06-25","s":"HNSG","v":0},{"d":"2020-06-26","s":"HNSG","v":0},{"d":"2020-06-27","s":"HNSG","v":0},{"d":"2020-06-28","s":"HNSG","v":0},{"d":"2020-06-29","s":"HNSG","v":0},{"d":"2020-06-30","s":"HNSG","v":0},
{"d":"2020-07-01","s":"HNSG","v":0},{"d":"2020-07-02","s":"HNSG","v":0},{"d":"2020-07-03","s":"HNSG","v":0},{"d":"2020-07-04","s":"HNSG","v":18},{"d":"2020-07-05","s":"HNSG","v":10},{"d":"2020-07-06","s":"HNSG","v":10},{"d":"2020-07-07","s":"HNSG","v":18},{"d":"2020-07-08","s":"HNSG","v":45},{"d":"2020-07-09","s":"HNSG","v":54},{"d":"2020-07-10","s":"HNSG","v":81},
{"d":"2020-07-11","s":"HNSG","v":10},{"d":"2020-07-12","s":"HNSG","v":27},{"d":"2020-07-13","s":"HNSG","v":18},{"d":"2020-07-14","s":"HNSG","v":18},{"d":"2020-07-15","s":"HNSG","v":27},{"d":"2020-07-16","s":"HNSG","v":27},{"d":"2020-07-17","s":"HNSG","v":18},{"d":"2020-07-18","s":"HNSG","v":45},{"d":"2020-07-19","s":"HNSG","v":36},{"d":"2020-07-20","s":"HNSG","v":36},
{"d":"2020-07-21","s":"HNSG","v":27},{"d":"2020-07-22","s":"HNSG","v":27},{"d":"2020-07-23","s":"HNSG","v":18},{"d":"2020-07-24","s":"HNSG","v":18},{"d":"2020-07-25","s":"HNSG","v":18},{"d":"2020-07-26","s":"HNSG","v":27},{"d":"2020-07-27","s":"HNSG","v":36},{"d":"2020-07-28","s":"HNSG","v":36},{"d":"2020-07-29","s":"HNSG","v":45},{"d":"2020-07-30","s":"HNSG","v":36},{"d":"2020-07-31","s":"HNSG","v":36},
{"d":"2020-08-01","s":"HNSG","v":27},{"d":"2020-08-02","s":"HNSG","v":10},{"d":"2020-08-03","s":"HNSG","v":0},

{"d":"2020-02-05","s":"HGF","v":0},{"d":"2020-02-06","s":"HGF","v":0},{"d":"2020-02-07","s":"HGF","v":0},{"d":"2020-02-08","s":"HGF","v":0},{"d":"2020-02-09","s":"HGF","v":0},{"d":"2020-02-10","s":"HGF","v":0},{"d":"2020-02-11","s":"HGF","v":0},{"d":"2020-02-12","s":"HGF","v":0},{"d":"2020-02-13","s":"HGF","v":0},{"d":"2020-02-14","s":"HGF","v":0},{"d":"2020-02-15","s":"HGF","v":0},{"d":"2020-02-16","s":"HGF","v":0},{"d":"2020-02-17","s":"HGF","v":0},{"d":"2020-02-18","s":"HGF","v":0},{"d":"2020-02-19","s":"HGF","v":0},{"d":"2020-02-20","s":"HGF","v":0},{"d":"2020-02-21","s":"HGF","v":0},{"d":"2020-02-22","s":"HGF","v":0},{"d":"2020-02-23","s":"HGF","v":0},{"d":"2020-02-24","s":"HGF","v":0},{"d":"2020-02-25","s":"HGF","v":0},{"d":"2020-02-26","s":"HGF","v":0},{"d":"2020-02-27","s":"HGF","v":0},{"d":"2020-02-28","s":"HGF","v":0},{"d":"2020-02-29","s":"HGF","v":0},
{"d":"2020-03-01","s":"HGF","v":0},{"d":"2020-03-02","s":"HGF","v":0},{"d":"2020-03-03","s":"HGF","v":0},{"d":"2020-03-04","s":"HGF","v":0},{"d":"2020-03-05","s":"HGF","v":0},{"d":"2020-03-06","s":"HGF","v":0},{"d":"2020-03-07","s":"HGF","v":0},{"d":"2020-03-08","s":"HGF","v":0},{"d":"2020-03-09","s":"HGF","v":0},{"d":"2020-03-10","s":"HGF","v":0},{"d":"2020-03-11","s":"HGF","v":0},{"d":"2020-03-12","s":"HGF","v":0},{"d":"2020-03-13","s":"HGF","v":0},{"d":"2020-03-14","s":"HGF","v":0},{"d":"2020-03-15","s":"HGF","v":0},{"d":"2020-03-16","s":"HGF","v":0},{"d":"2020-03-17","s":"HGF","v":0},{"d":"2020-03-18","s":"HGF","v":0},{"d":"2020-03-19","s":"HGF","v":0},{"d":"2020-03-20","s":"HGF","v":0},{"d":"2020-03-21","s":"HGF","v":0},{"d":"2020-03-22","s":"HGF","v":0},{"d":"2020-03-23","s":"HGF","v":0},{"d":"2020-03-24","s":"HGF","v":0},{"d":"2020-03-25","s":"HGF","v":0},{"d":"2020-03-26","s":"HGF","v":0},{"d":"2020-03-27","s":"HGF","v":0},{"d":"2020-03-28","s":"HGF","v":0},{"d":"2020-03-29","s":"HGF","v":0},{"d":"2020-03-30","s":"HGF","v":0},{"d":"2020-03-31","s":"HGF","v":0},
{"d":"2020-04-01","s":"HGF","v":0},{"d":"2020-04-02","s":"HGF","v":0},{"d":"2020-04-03","s":"HGF","v":0},{"d":"2020-04-04","s":"HGF","v":0},{"d":"2020-04-05","s":"HGF","v":0},{"d":"2020-04-06","s":"HGF","v":0},{"d":"2020-04-07","s":"HGF","v":0},{"d":"2020-04-08","s":"HGF","v":0},{"d":"2020-04-09","s":"HGF","v":0},{"d":"2020-04-10","s":"HGF","v":0},{"d":"2020-04-11","s":"HGF","v":0},{"d":"2020-04-12","s":"HGF","v":0},{"d":"2020-04-13","s":"HGF","v":0},{"d":"2020-04-14","s":"HGF","v":0},{"d":"2020-04-15","s":"HGF","v":0},{"d":"2020-04-16","s":"HGF","v":0},{"d":"2020-04-17","s":"HGF","v":0},{"d":"2020-04-18","s":"HGF","v":0},{"d":"2020-04-19","s":"HGF","v":0},{"d":"2020-04-20","s":"HGF","v":0},{"d":"2020-04-21","s":"HGF","v":0},{"d":"2020-04-22","s":"HGF","v":0},{"d":"2020-04-23","s":"HGF","v":0},{"d":"2020-04-24","s":"HGF","v":0},{"d":"2020-04-25","s":"HGF","v":0},{"d":"2020-04-26","s":"HGF","v":0},{"d":"2020-04-27","s":"HGF","v":0},{"d":"2020-04-28","s":"HGF","v":0},{"d":"2020-04-29","s":"HGF","v":0},{"d":"2020-04-30","s":"HGF","v":0},
{"d":"2020-05-01","s":"HGF","v":0},{"d":"2020-05-02","s":"HGF","v":0},{"d":"2020-05-03","s":"HGF","v":0},{"d":"2020-05-04","s":"HGF","v":0},{"d":"2020-05-05","s":"HGF","v":0},{"d":"2020-05-06","s":"HGF","v":0},{"d":"2020-05-07","s":"HGF","v":0},{"d":"2020-05-08","s":"HGF","v":0},{"d":"2020-05-09","s":"HGF","v":0},{"d":"2020-05-10","s":"HGF","v":0},{"d":"2020-05-11","s":"HGF","v":0},{"d":"2020-05-12","s":"HGF","v":0},{"d":"2020-05-13","s":"HGF","v":0},{"d":"2020-05-14","s":"HGF","v":0},{"d":"2020-05-15","s":"HGF","v":0},{"d":"2020-05-16","s":"HGF","v":0},{"d":"2020-05-17","s":"HGF","v":0},{"d":"2020-05-18","s":"HGF","v":0},{"d":"2020-05-19","s":"HGF","v":0},{"d":"2020-05-20","s":"HGF","v":0},{"d":"2020-05-21","s":"HGF","v":0},{"d":"2020-05-22","s":"HGF","v":0},{"d":"2020-05-23","s":"HGF","v":0},{"d":"2020-05-24","s":"HGF","v":0},{"d":"2020-05-25","s":"HGF","v":0},{"d":"2020-05-26","s":"HGF","v":0},{"d":"2020-05-27","s":"HGF","v":0},{"d":"2020-05-28","s":"HGF","v":0},{"d":"2020-05-29","s":"HGF","v":0},{"d":"2020-05-30","s":"HGF","v":0},{"d":"2020-05-31","s":"HGF","v":0},
{"d":"2020-06-01","s":"HGF","v":0},{"d":"2020-06-02","s":"HGF","v":0},{"d":"2020-06-03","s":"HGF","v":0},{"d":"2020-06-04","s":"HGF","v":0},{"d":"2020-06-05","s":"HGF","v":0},{"d":"2020-06-06","s":"HGF","v":0},{"d":"2020-06-07","s":"HGF","v":0},{"d":"2020-06-08","s":"HGF","v":0},{"d":"2020-06-09","s":"HGF","v":0},{"d":"2020-06-10","s":"HGF","v":0},{"d":"2020-06-11","s":"HGF","v":0},{"d":"2020-06-12","s":"HGF","v":0},{"d":"2020-06-13","s":"HGF","v":0},{"d":"2020-06-14","s":"HGF","v":0},{"d":"2020-06-15","s":"HGF","v":0},{"d":"2020-06-16","s":"HGF","v":0},{"d":"2020-06-17","s":"HGF","v":0},{"d":"2020-06-18","s":"HGF","v":0},{"d":"2020-06-19","s":"HGF","v":0},{"d":"2020-06-20","s":"HGF","v":0},{"d":"2020-06-21","s":"HGF","v":0},{"d":"2020-06-22","s":"HGF","v":0},{"d":"2020-06-23","s":"HGF","v":0},
{"d":"2020-06-24","s":"HGF","v":45},{"d":"2020-06-25","s":"HGF","v":18},{"d":"2020-06-26","s":"HGF","v":45},{"d":"2020-06-27","s":"HGF","v":9},{"d":"2020-06-28","s":"HGF","v":9},{"d":"2020-06-29","s":"HGF","v":45},{"d":"2020-06-30","s":"HGF","v":84},
{"d":"2020-07-01","s":"HGF","v":72},{"d":"2020-07-02","s":"HGF","v":72},{"d":"2020-07-03","s":"HGF","v":63},{"d":"2020-07-04","s":"HGF","v":45},{"d":"2020-07-05","s":"HGF","v":40},{"d":"2020-07-06","s":"HGF","v":27},{"d":"2020-07-07","s":"HGF","v":20},{"d":"2020-07-08","s":"HGF","v":27},{"d":"2020-07-09","s":"HGF","v":63},{"d":"2020-07-10","s":"HGF","v":99},
{"d":"2020-07-11","s":"HGF","v":20},{"d":"2020-07-12","s":"HGF","v":0},{"d":"2020-07-13","s":"HGF","v":45},{"d":"2020-07-14","s":"HGF","v":40},{"d":"2020-07-15","s":"HGF","v":63},{"d":"2020-07-16","s":"HGF","v":27},{"d":"2020-07-17","s":"HGF","v":45},{"d":"2020-07-18","s":"HGF","v":54},{"d":"2020-07-19","s":"HGF","v":27},{"d":"2020-07-20","s":"HGF","v":36},
{"d":"2020-07-21","s":"HGF","v":99},{"d":"2020-07-22","s":"HGF","v":45},{"d":"2020-07-23","s":"HGF","v":27},{"d":"2020-07-24","s":"HGF","v":45},{"d":"2020-07-25","s":"HGF","v":36},{"d":"2020-07-26","s":"HGF","v":54},{"d":"2020-07-27","s":"HGF","v":9},{"d":"2020-07-28","s":"HGF","v":45},{"d":"2020-07-29","s":"HGF","v":63},{"d":"2020-07-30","s":"HGF","v":99},{"d":"2020-07-31","s":"HGF","v":81},
{"d":"2020-08-01","s":"HGF","v":54},{"d":"2020-08-02","s":"HGF","v":45},{"d":"2020-08-03","s":"HGF","v":45}
]},
"layer":[
{"mark":{"type":"line","strokeWidth":2.7},
"encoding":{
"x":{"field":"d","type":"temporal",
"scale":{"type":"utc","domain":[{"year":2020,"month":2,"date":1,"hours":15,"utc":true},{"year":2020,"month":8,"date":5,"hours":14,"utc":true}]},
"axis":{"values":[{"year":2020,"month":2,"date":5,"utc":true},{"year":2020,"month":2,"date":12,"utc":true},{"year":2020,"month":2,"date":19,"utc":true},{"year":2020,"month":2,"date":26,"utc":true},{"year":2020,"month":3,"date":4,"utc":true},{"year":2020,"month":3,"date":11,"utc":true},{"year":2020,"month":3,"date":18,"utc":true},{"year":2020,"month":3,"date":25,"utc":true},{"year":2020,"month":4,"date":1,"utc":true},{"year":2020,"month":4,"date":8,"utc":true},{"year":2020,"month":4,"date":15,"utc":true},{"year":2020,"month":4,"date":22,"utc":true},{"year":2020,"month":4,"date":29,"utc":true},{"year":2020,"month":5,"date":6,"utc":true},{"year":2020,"month":5,"date":13,"utc":true},{"year":2020,"month":5,"date":20,"utc":true},{"year":2020,"month":5,"date":27,"utc":true},{"year":2020,"month":6,"date":3,"utc":true},{"year":2020,"month":6,"date":10,"utc":true},{"year":2020,"month":6,"date":17,"utc":true},{"year":2020,"month":6,"date":24,"utc":true},{"year":2020,"month":7,"date":1,"utc":true},{"year":2020,"month":7,"date":8,"utc":true},{"year":2020,"month":7,"date":15,"utc":true},{"year":2020,"month":7,"date":22,"utc":true},{"year":2020,"month":7,"date":29,"utc":true},{"year":2020,"month":8,"date":5,"utc":true}],
"format":"%d/%m/%Y","labelAngle":-45,"labelAlign":"right","labelBaseline":"middle","labelFontSize":33,"labelPadding":7,"labelOverlap":false,"labelFlush":false,"labelBound":false,
"tickSize":13,"tickWidth":1.5,"domainWidth":1.5,"grid":false,
"title":"Fecha","titleFontSize":33,"titleFontWeight":"normal","titlePadding":24}},
"y":{"field":"v","type":"quantitative","scale":{"domain":[-118.6,2113],"nice":false,"zero":false},
"axis":{"values":[0,500,1000,1500,2000],"format":"d","title":null,"labelFontSize":33,"labelPadding":9,"tickSize":13,"tickWidth":1.5,"domainWidth":1.5,"grid":true,"gridColor":"#EAF2F3","gridWidth":2}},
"color":{"field":"s","type":"nominal",
"scale":{"domain":["HUNSC","CHUIMI","HUC","HUGCDN","HDJMO","HNSG","HGF"],"range":["#1A476F","#90353B","#55752F","#E37E00","#6E8E84","#C10534","#938DD2"]},
"legend":{"orient":"none","legendX":151,"legendY":638,"columns":2,"direction":"horizontal","title":null,
"symbolType":"M-6,0H6","symbolSize":449,"symbolStrokeWidth":3,"symbolOffset":47.5,"labelOffset":66,
"labelFontSize":33,"labelFont":"Liberation Sans","labelColor":"#000","labelLimit":500,
"rowPadding":14,"columnPadding":61,"padding":16,"strokeColor":"#333","fillColor":"#FFFFFF",
"labelExpr":"'(sum) ' + datum.label",
"encode":{"legend":{"update":{"strokeWidth":{"value":1.5}}}}}}
}},
{"mark":{"type":"point","opacity":0},
"encoding":{"x":{"field":"d","type":"temporal",
"axis":{"orient":"bottom","tickCount":{"interval":"day","step":1},"labels":false,"domain":false,"grid":false,"title":null,"tickSize":7,"tickWidth":1.2,
"tickOpacity":{"condition":{"test":"datum.value < utc(2020,1,5)","value":0},"value":1}}}}}
],
"resolve":{"axis":{"x":"independent"}}
}
